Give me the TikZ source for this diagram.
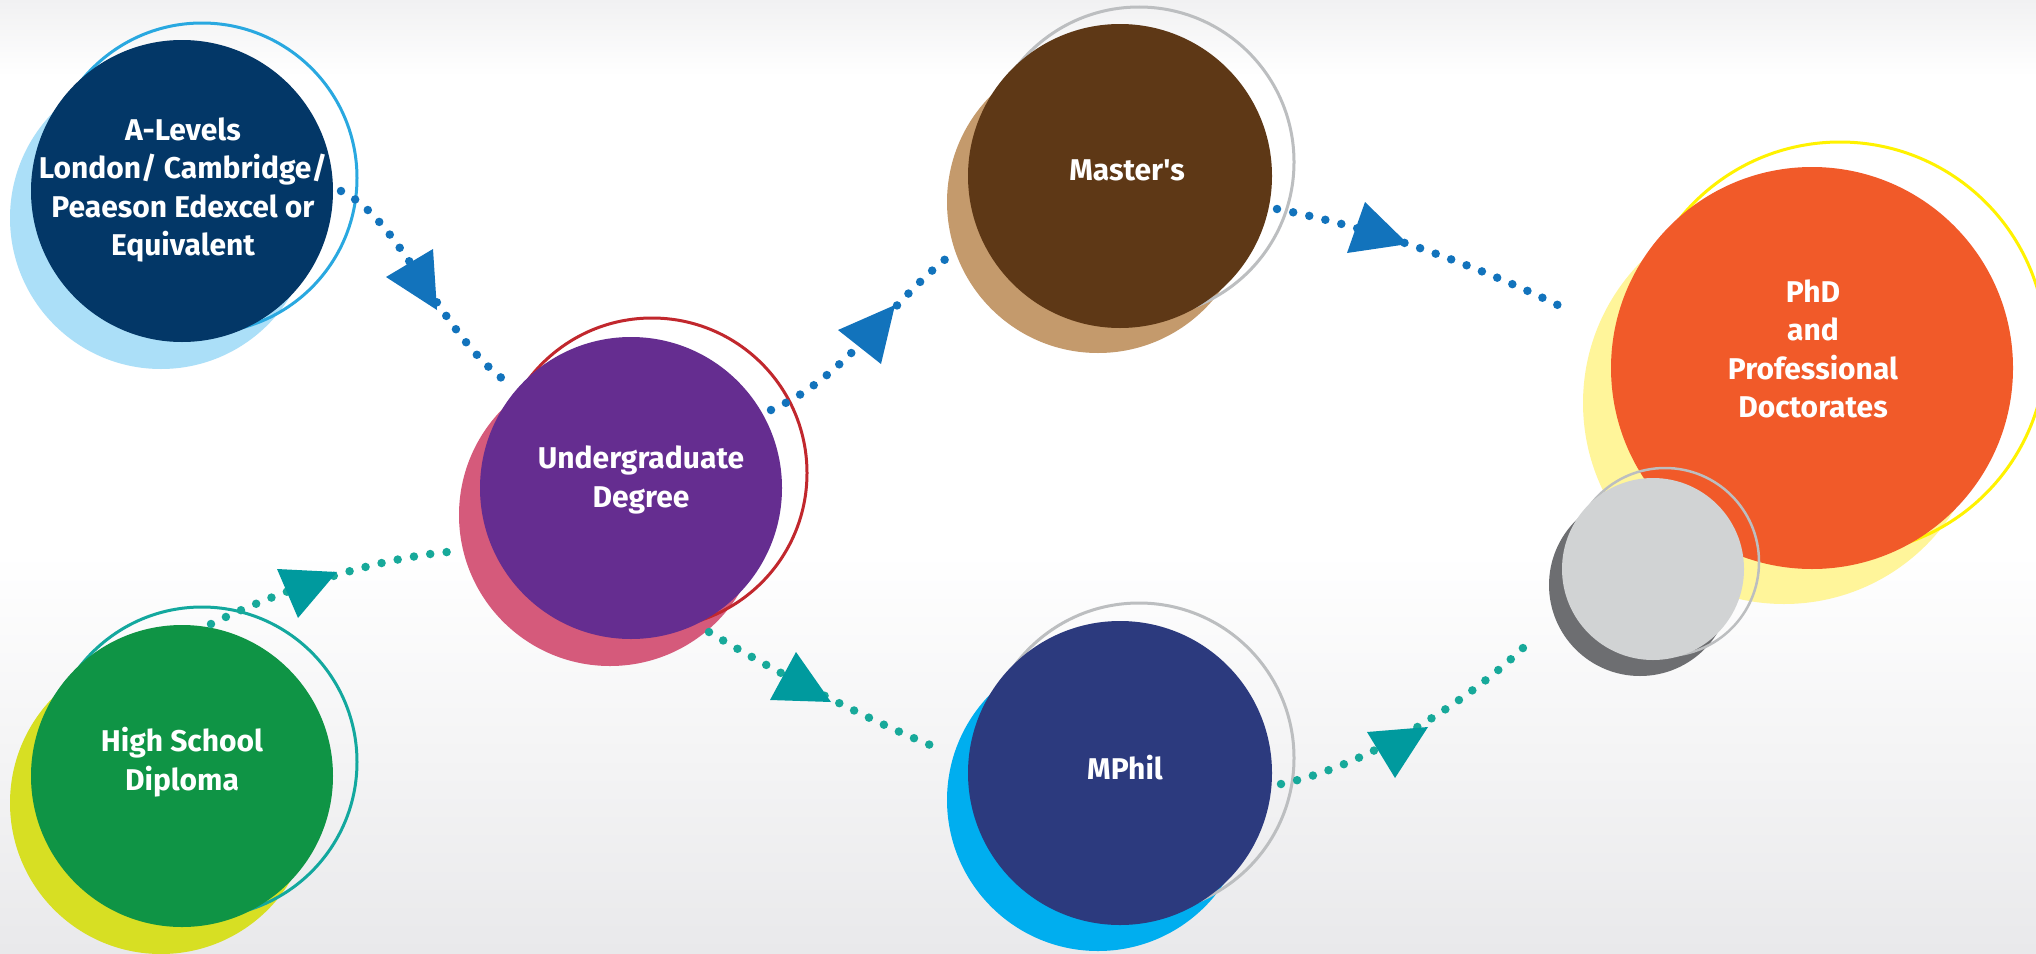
\documentclass[tikz,border=0pt]{standalone}
\usepackage{fontspec}
\setmainfont{Fira Sans}[Ligatures=TeXOff]
\definecolor{bgtop}{HTML}{F1F1F2}
\definecolor{bgbot}{HTML}{E9E9EB}
\definecolor{alevMain}{HTML}{033767}
\definecolor{alevShad}{HTML}{ABDFF8}
\definecolor{alevRing}{HTML}{29A8E0}
\definecolor{ugMain}{HTML}{652D90}
\definecolor{ugShad}{HTML}{D55A7B}
\definecolor{ugRing}{HTML}{C1272D}
\definecolor{maMain}{HTML}{5E3816}
\definecolor{maShad}{HTML}{C49A6C}
\definecolor{greyRing}{HTML}{BCBEC0}
\definecolor{phdMain}{HTML}{F15A29}
\definecolor{phdShad}{HTML}{FFF59A}
\definecolor{phdRing}{HTML}{FFF200}
\definecolor{gyMain}{HTML}{D1D3D4}
\definecolor{gyShad}{HTML}{6D6E71}
\definecolor{hsMain}{HTML}{0F9445}
\definecolor{hsShad}{HTML}{D7DF23}
\definecolor{hsRing}{HTML}{13A89E}
\definecolor{mpMain}{HTML}{2C3A7E}
\definecolor{mpShad}{HTML}{00AEEF}
\definecolor{dotblue}{HTML}{1273BC}
\definecolor{dotteal}{HTML}{17A99A}
\definecolor{triteal}{HTML}{009A9E}
\pgfdeclareverticalshading{bgshade}{100bp}{color(0bp)=(bgbot); color(25bp)=(bgbot); color(46bp)=(white); color(71bp)=(white); color(75bp)=(bgtop); color(100bp)=(bgtop)}
\begin{document}
\begin{tikzpicture}[x=1pt,y=-1pt,
  disc/.style={circle, inner sep=0pt, minimum size=#1},
  ringline/.style={line width=3pt},
  lbl/.style={text=white, align=center, inner sep=0pt, font=\fontsize{30}{38.5}\selectfont\bfseries},
  bluedots/.style={draw=dotblue, line width=8.5pt, line cap=round, dash pattern=on 0pt off 16.5pt},
  tealdots/.style={draw=dotteal, line width=8.5pt, line cap=round, dash pattern=on 0pt off 16.5pt}]
\useasboundingbox (0,0) rectangle (2036,953);
\shade[shading=bgshade] (0,0) rectangle (2036,953);

% A-Levels
\fill[alevShad] (161,218) circle (151);
\draw[alevRing, ringline] (202,178) circle (155);
\node[disc=302pt, fill=alevMain] (alev) at (182,191) {};
% Undergraduate
\fill[ugShad] (610,515) circle (151);
\draw[ugRing, ringline] (652,473) circle (155);
\node[disc=302pt, fill=ugMain] (ug) at (631,488) {};
% Master's
\fill[maShad] (1098,202) circle (151);
\draw[greyRing, ringline] (1139,162) circle (155);
\node[disc=304pt, fill=maMain] (ma) at (1120,176) {};
% PhD
\fill[phdShad] (1784,403) circle (201);
\draw[phdRing, ringline] (1840,348) circle (206);
\node[disc=402pt, fill=phdMain] (phd) at (1812,368) {};
% grey
\fill[gyShad] (1640,585) circle (91);
\draw[greyRing, line width=2.5pt] (1665,562) circle (94);
\node[disc=182pt, fill=gyMain] (gy) at (1653,569) {};
% High School
\fill[hsShad] (161,803) circle (151);
\draw[hsRing, ringline] (202,762) circle (155);
\node[disc=302pt, fill=hsMain] (hs) at (182,776) {};
% MPhil
\fill[mpShad] (1098,800) circle (151);
\draw[greyRing, ringline] (1139,758) circle (155);
\node[disc=304pt, fill=mpMain] (mp) at (1120,773) {};

% connector end points
\coordinate (c1a) at (341,191);
\coordinate (c1b) at (507,382);
\coordinate (c2a) at (771,410);
\coordinate (c2b) at (948,257);
\coordinate (c3a) at (1277,209);
\coordinate (c3b) at (1572,312);
\coordinate (c4a) at (211,624);
\coordinate (c4b) at (460,551);
\coordinate (c5a) at (709,632);
\coordinate (c5b) at (943,750);
\coordinate (c6a) at (1281,784);
\coordinate (c6b) at (1533,638);

\draw[bluedots] (c1a) .. controls (401,219) and (441,336) .. (c1b);
\fill[dotblue] (386,277) -- (433,249) -- (437,310) -- cycle;
\draw[bluedots] (c2a) .. controls (845,378) and (886,307) .. (c2b);
\fill[dotblue] (838,330) -- (895,305) -- (881,364) -- cycle;
\draw[bluedots] (c3a) .. controls (1375,228) and (1482,267) .. (c3b);
\fill[dotblue] (1365,202) -- (1408,244) -- (1347,253) -- cycle;
\draw[tealdots] (c4a) .. controls (283,589) and (380,556) .. (c4b);
\fill[triteal] (277,569) -- (337,572) -- (298,618) -- cycle;
\draw[tealdots] (c5a) .. controls (768,668) and (877,725) .. (c5b);
\fill[triteal] (796,652) -- (831,702) -- (770,700) -- cycle;
\draw[tealdots] (c6a) .. controls (1369,766) and (1477,696) .. (c6b);
\fill[triteal] (1367,732) -- (1428,727) -- (1395,778) -- cycle;

% labels
\node[lbl] (alevT) at (183,190) {A-Levels\\London/ Cambridge/\\Peaeson Edexcel or\\Equivalent};
\node[lbl] (ugT) at (641,480) {Undergraduate\\Degree};
\node[lbl] (maT) at (1127,170) {Master's};
\node[lbl] (phdT) at (1813,349) {PhD\\and\\Professional\\Doctorates};
\node[lbl] (hsT) at (182,762) {High School\\Diploma};
\node[lbl] (mpT) at (1125,768) {MPhil};
\end{tikzpicture}
\end{document}
